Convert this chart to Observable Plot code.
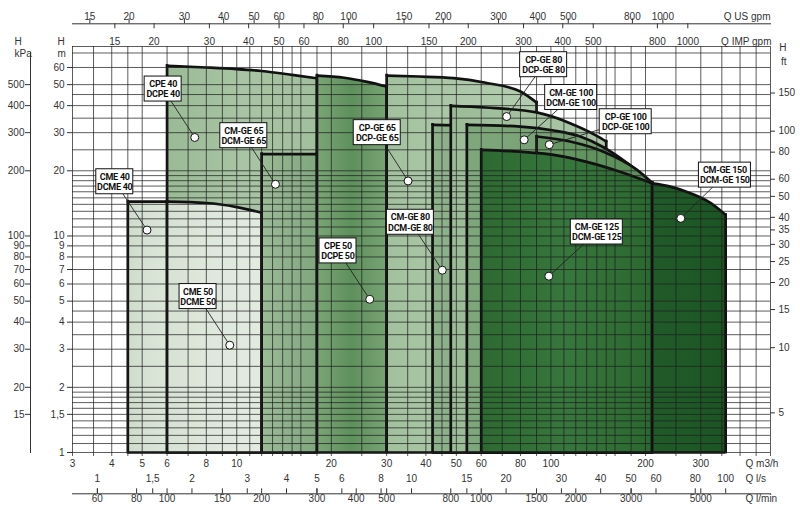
<!DOCTYPE html>
<html><head><meta charset="utf-8">
<script src="https://cdn.jsdelivr.net/npm/d3@7"></script>
<script src="https://cdn.jsdelivr.net/npm/@observablehq/plot@0.6"></script>
<style>
html,body{margin:0;padding:0;background:#fff;} svg{display:block}
svg g[font-weight="bold"] text{letter-spacing:-0.25px}
</style>
</head><body><div id="chart"></div>
<script>
// ---- Pump envelopes: [Q m3/h, H m] along each top curve ----
const cpe40   = [[6,61],[8,60],[10,59],[12,57.8],[15,55.5],[18,53.5]];
const cme40   = [[4.5,14.4],[6,14.4]];
const cme50   = [[6,14.4],[8,14.2],[10,13.6],[12,12.8]];
const cmge65  = [[12,23.9],[18,23.9]];
const cpe50   = [[18,55],[22,53.8],[26,51.5],[30,49]];
const cpge65  = [[30,55],[38,54.5],[49,53.6],[62,51],[80,46.5],[90,41.3]];
const cmge80  = [[42,32.6],[50,32.4]];
const cpge80  = [[48,39.9],[62,39.2],[90,37.2],[115,33.2],[140,29],[150,27.3]];
const cmge100 = [[54,32.6],[80,32],[102,30.7],[124,28.8],[147,25.7],[175,21.7],[210,17.5]];
const cpge100 = [[90,28.8],[115,27.3],[147,24.5],[188,20.2],[210,17.6]];
const cmge125 = [[60,25],[80,24.5],[102,23.7],[130,22],[166,19.8],[210,17.5]];
const cmge150 = [[210,17.5],[240,16.9],[270,16],[322,14.2],[360,12.5]];

// ---- Callouts ----
const calloutTop    = ["CME 40","CPE 40","CM-GE 65","CME 50","CPE 50","CM-GE 80","CP-GE 65","CP-GE 80","CM-GE 100","CP-GE 100","CM-GE 125","CM-GE 150"];
const calloutBottom = ["DCME 40","DCPE 40","DCM-GE 65","DCME 50","DCPE 50","DCM-GE 80","DCP-GE 65","DCP-GE 80","DCM-GE 100","DCP-GE 100","DCM-GE 125","DCM-GE 150"];
const boxQ = [4.09,5.83,10.53,7.53,21.0,35.7,28.0,94.8,116,173,140,358];
const boxH = [17.8,47.7,29.05,5.25,8.53,11.57,30.0,61.8,43.6,33.7,10.43,19.1];
const dotQ = [5.18,7.35,13.28,9.50,26.5,45.1,35.1,72.3,82.2,98.8,98.5,259];
const dotH = [10.65,28.5,17.33,3.13,5.1,6.95,17.95,35.6,27.8,26.4,6.52,12.06];

// ---- Grid & tick values ----
const gridQ = [3,3.5,4,4.5,5,6,7,8,9,10,11,12,13,14,15,16,18,20,25,30,35,40,45,50,60,70,80,90,100,110,120,130,140,150,160,180,200,250,300,350,400,450,500];
const gridH = [1,1.1,1.2,1.3,1.4,1.5,1.6,1.7,1.8,1.9,2,2.5,3,3.5,4,4.5,5,6,7,8,9,10,11,12,13,14,15,16,17,18,19,20,25,30,35,40,45,50,60,70,75];
const ticksM3h  = [3,4,5,6,8,10,20,30,40,50,60,80,100,200,300];
const ticksLs   = [1,1.5,2,3,4,5,6,8,10,15,20,30,40,50,60,80,100];
const ticksLmin = [60,80,100,150,200,300,400,500,800,1000,1500,2000,3000,5000];
const ticksUS   = [15,20,30,40,50,60,80,100,150,200,300,400,500,800,1000];
const ticksIMP  = [15,20,30,40,50,60,80,100,150,200,300,400,500,800,1000];
const ticksHm   = [1,1.5,2,3,4,5,6,7,8,9,10,20,30,40,50,60];
const ticksKPa  = [15,20,30,40,50,60,70,80,90,100,200,300,400,500];
const ticksFt   = [5,10,15,20,25,30,35,40,50,60,80,100,150];

// ---- Styles (left / middle / right shading of each envelope) ----
const regions = [
  [cpe40,  ["#9aba95","#a8c4a4","#a2bf9d"]],
  [cme40,  ["#cfdccc","#d6e2d3","#dbe6d8"]],
  [cme50,  ["#d6e2d3","#dfe8dc","#e3ebe1"]],
  [cmge65, ["#9dbc99","#8db08a","#80a77d"]],
  [cpe50,  ["#7ba676","#5e905c","#77a373"]],
  [cpge65, ["#a2c09e","#adc8a9","#b3ccaf"]],
  [cmge80, ["#8cb089","#8cb089","#8cb089"]],
  [cpge80, ["#9bbb97","#a4c2a0","#aac6a6"]],
  [cmge100,["#7ea77b","#78a275","#74a071"]],
  [cpge100,["#6a9a67","#5f925d","#5b8f59"]],
  [cmge125,["#2c6a31","#37763c","#2b6830"]],
  [cmge150,["#205a28","#1f5927","#1c5424"]]
];

const US = 4.40287, IMP = 3.66615;
const fmt = d => String(d).replace(".", ",");
const axisFont = {fontSize: 10, fill: "#333"};
const sideFont = {fontSize: 10, fill: "#333"};

const defsMark = () => {
  const defs = d3.create("svg:defs");
  regions.forEach(([, stops], i) => {
    const g = defs.append("linearGradient").attr("id", "pg" + i)
      .attr("x1", 0).attr("x2", 1).attr("y1", 0).attr("y2", 0);
    stops.forEach((c, j) => g.append("stop").attr("offset", j / (stops.length - 1)).attr("stop-color", c));
  });
  return defs.node();
};

function regionMarks(pts, i) {
  const first = pts[0], last = pts[pts.length - 1];
  const k = {stroke: "#111", strokeWidth: 2.7};
  return [
    Plot.areaY(pts, {x: d => d[0], y1: 1, y2: d => d[1], fill: `url(#pg${i})`, curve: "monotone-x"}),
    Plot.line(pts, {x: d => d[0], y: d => d[1], curve: "monotone-x", ...k}),
    Plot.ruleX([first, last], {x: d => d[0], y1: 1, y2: d => d[1], strokeLinecap: "square", ...k}),
    Plot.ruleY([1], {x1: first[0], x2: last[0], ...k})
  ];
}

const callouts = calloutTop.map((t, i) => ({
  text: t + "\n" + calloutBottom[i], bq: boxQ[i], bh: boxH[i], dq: dotQ[i], dh: dotH[i],
  w: Math.round(4.9 * Math.max(t.length, calloutBottom[i].length) + 3)
}));

const calloutFont = "Roboto,'Liberation Sans',sans-serif";

const chart = Plot.plot({
  width: 800, height: 509,
  marginLeft: 72, marginRight: 30, marginTop: 46, marginBottom: 57,
  x: {type: "log", domain: [3, 500], axis: null},
  y: {type: "log", domain: [1, 75], axis: null},
  style: {fontFamily: "'Liberation Sans', Arial, sans-serif", fontSize: "10px", background: "#fff", overflow: "visible"},
  marks: [
    defsMark,
    ...regions.flatMap(([pts], i) => regionMarks(pts, i)),
    // grid
    Plot.ruleX(gridQ, {stroke: "#1e1e1e", strokeOpacity: 0.72, strokeWidth: 1, insetBottom: -4}),
    Plot.ruleY(gridH, {stroke: "#1e1e1e", strokeOpacity: 0.72, strokeWidth: 1}),
    // left m axis
    Plot.ruleY(ticksHm, {stroke: "#333", insetLeft: -5, insetRight: 698}),
    Plot.text(ticksHm, {y: d => d, frameAnchor: "left", dx: -8, textAnchor: "end", text: fmt, ...sideFont}),
    Plot.text(["H"], {frameAnchor: "top-left", dx: -15, dy: -9, text: d => d, ...sideFont}),
    Plot.text(["m"], {frameAnchor: "top-left", dx: -15, dy: 3, text: d => d, ...sideFont}),
    // left kPa axis
    Plot.frame({anchor: "left", insetLeft: -42, insetTop: 6, stroke: "#333"}),
    Plot.ruleY(ticksKPa, {y: d => d / 10, stroke: "#333", insetLeft: -47, insetRight: 740}),
    Plot.text(ticksKPa, {y: d => d / 10, frameAnchor: "left", dx: -48, textAnchor: "end", text: fmt, ...sideFont}),
    Plot.text(["H"], {frameAnchor: "top-left", dx: -58, dy: -9, text: d => d, ...sideFont}),
    Plot.text(["kPa"], {frameAnchor: "top-left", dx: -58, dy: 3, text: d => d, ...sideFont}),
    // right ft axis
    Plot.ruleY(ticksFt, {y: d => d * 0.3048, stroke: "#333", insetLeft: 698, insetRight: -5}),
    Plot.text(ticksFt, {y: d => d * 0.3048, frameAnchor: "right", dx: 8, textAnchor: "start", text: fmt, ...sideFont}),
    Plot.text(["H"], {frameAnchor: "top-right", dx: 16, dy: -3, text: d => d, ...sideFont}),
    Plot.text(["ft"], {frameAnchor: "top-right", dx: 16, dy: 11, text: d => d, ...sideFont}),
    // top axes
    Plot.frame({anchor: "top", insetTop: -22.7, stroke: "#333"}),
    Plot.ruleX(ticksUS, {x: d => d / US, stroke: "#333", insetTop: -27.7, insetBottom: 428.7}),
    Plot.text(ticksUS, {x: d => d / US, frameAnchor: "top", dy: -34, text: fmt, ...axisFont}),
    Plot.ruleX(ticksIMP, {x: d => d / IMP, stroke: "#333", insetTop: -22.7, insetBottom: 423.7}),
    Plot.text(ticksIMP, {x: d => d / IMP, frameAnchor: "top", dy: -9, text: fmt, ...axisFont}),
    Plot.text(["Q US gpm"], {frameAnchor: "top-right", dy: -34, textAnchor: "end", text: d => d, ...axisFont}),
    Plot.text(["Q IMP gpm"], {frameAnchor: "top-right", dx: 1, dy: -9, textAnchor: "end", text: d => d, ...axisFont}),
    // bottom axes
    Plot.text(ticksM3h, {x: d => d, frameAnchor: "bottom", dy: 14.7, text: fmt, ...axisFont}),
    Plot.frame({anchor: "bottom", insetBottom: -41.3, stroke: "#333"}),
    Plot.ruleX(ticksLs, {x: d => d * 3.6, stroke: "#333", insetTop: 442.3, insetBottom: -41.3}),
    Plot.text(ticksLs, {x: d => d * 3.6, frameAnchor: "bottom", dy: 29.7, text: fmt, ...axisFont}),
    Plot.ruleX(ticksLmin, {x: d => d * 0.06, stroke: "#333", insetTop: 442.3, insetBottom: -41.3}),
    Plot.text(ticksLmin, {x: d => d * 0.06, frameAnchor: "bottom", dy: 49.7, text: fmt, ...axisFont}),
    Plot.text(["Q m3/h"], {frameAnchor: "bottom-right", dx: -25, dy: 14.7, textAnchor: "start", text: d => d, ...axisFont}),
    Plot.text(["Q l/s"], {frameAnchor: "bottom-right", dx: -25, dy: 29.7, textAnchor: "start", text: d => d, ...axisFont}),
    Plot.text(["Q l/min"], {frameAnchor: "bottom-right", dx: -25, dy: 49.7, textAnchor: "start", text: d => d, ...axisFont}),
    // callouts
    Plot.link(callouts, {x1: "bq", y1: "bh", x2: "dq", y2: "dh", stroke: "#222", strokeWidth: 0.9}),
    Plot.dot(callouts, {x: "dq", y: "dh", r: 4, fill: "#fff", stroke: "#111", strokeWidth: 1}),
    ...callouts.map(c => Plot.rect([c], {x1: "bq", x2: "bq", y1: "bh", y2: "bh",
      insetLeft: -c.w / 2, insetRight: -c.w / 2, insetTop: -12.5, insetBottom: -12.5,
      fill: "#fff", stroke: "#111", strokeWidth: 1})),
    Plot.text(callouts, {x: "bq", y: "bh", text: "text", fontFamily: calloutFont, fontWeight: "bold",
      fontSize: 9, lineHeight: 1.12, fill: "#111"})
  ]
});
document.getElementById("chart").appendChild(chart);
</script></body></html>
